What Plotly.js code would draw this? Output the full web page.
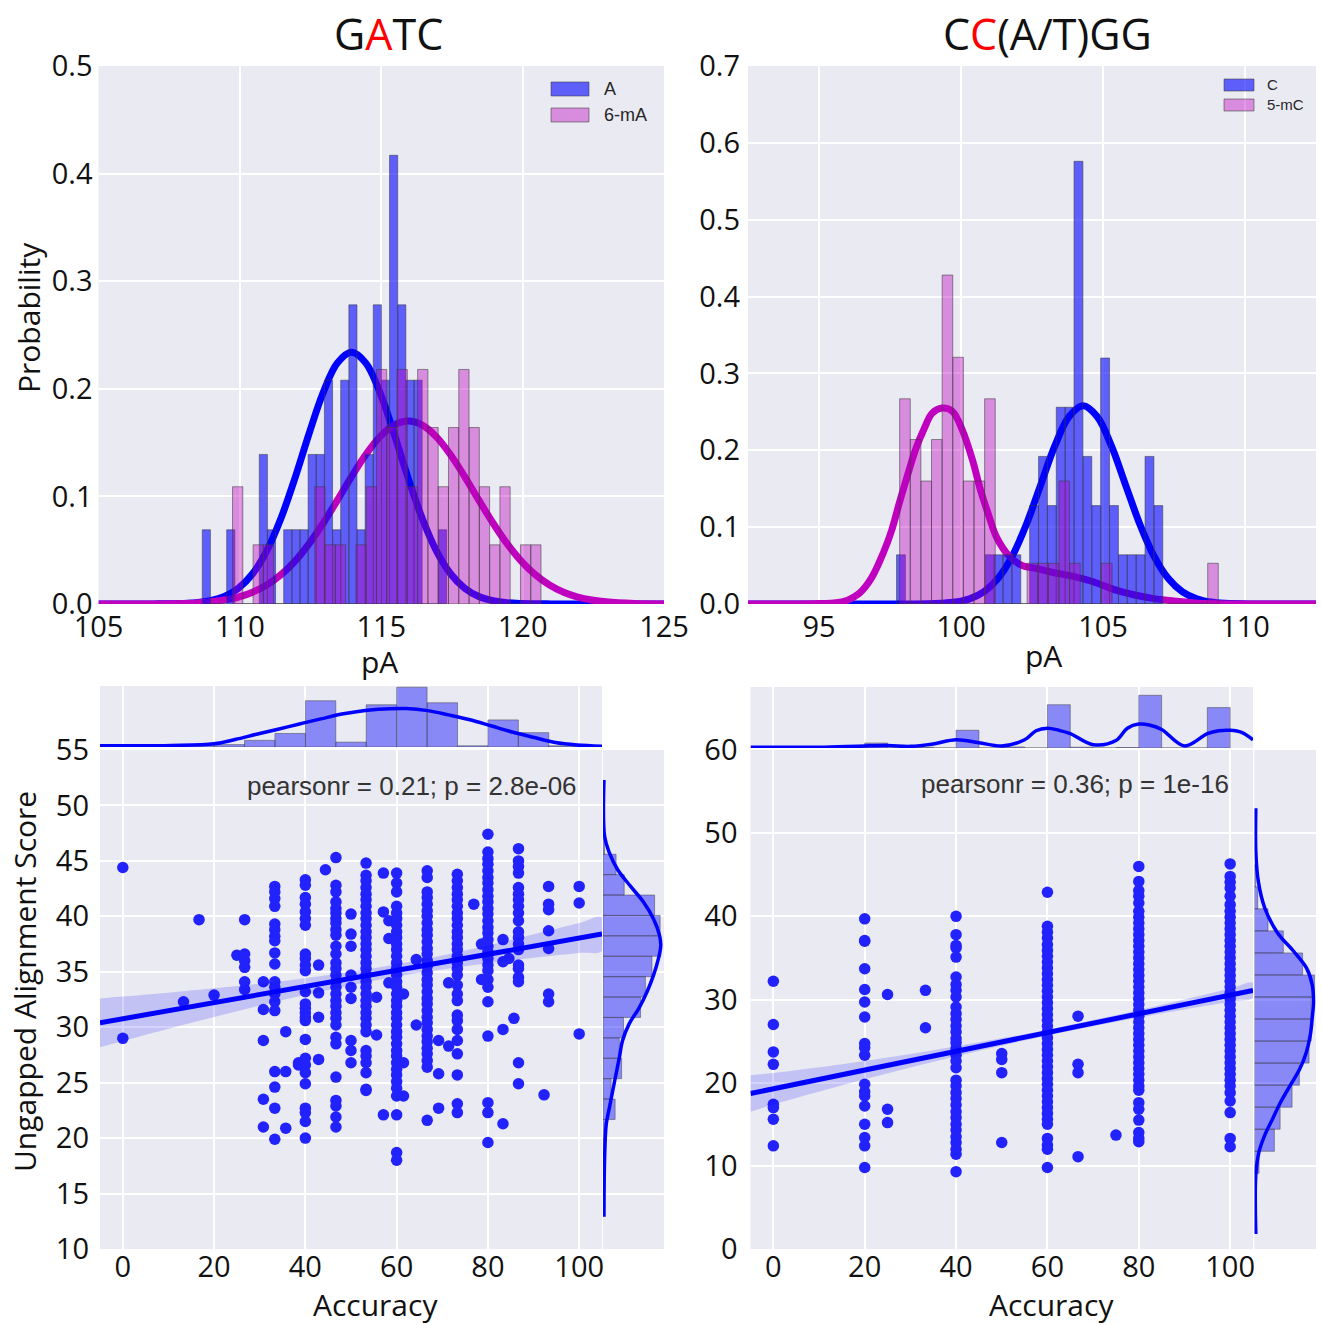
<!DOCTYPE html>
<html><head><meta charset="utf-8">
<script src="https://cdn.plot.ly/plotly-3.0.1.min.js"></script>
<style>html,body{margin:0;padding:0;background:#fff;} #chart{width:1322px;height:1325px;}</style>
</head><body><div id="chart"></div>
<script>
// ---------------- DATA ----------------
// Top-left (GATC): histograms of A and 6-mA (probability density)
const gatcA_binStart = 108.67, gatcA_binWidth = 0.288;
const gatcA_heights = [0.069,0,0,0.069,0,0,0,0.139,0.069,0,0.069,0.069,0.069,0.139,0.139,0.208,0.069,0.208,0.278,0.069,0.139,0.278,0.208,0.417,0.278,0.208,0.208,0,0,0.069];
const gatcM_binStart = 109.74, gatcM_binWidth = 0.3637;
const gatcM_heights = [0.109,0,0.055,0.055,0,0,0,0,0.109,0.055,0.055,0,0.055,0.109,0.218,0.164,0.218,0.109,0.218,0.164,0.109,0.164,0.218,0.164,0.109,0.055,0.109,0,0.055,0.055];
// fitted curves
const gatcA_curveX = [105,106,107,107.95,108.45,108.95,109.45,109.95,110.45,110.95,111.45,111.95,112.45,112.95,113.45,113.95,114.45,114.95,115.45,115.95,116.45,116.95,117.45,117.95,118.45,118.95,119.45,119.95,121,122,123,125];
const gatcA_curveY = [0,0,0.0001,0.0005,0.0012,0.0031,0.0070,0.0147,0.0281,0.0493,0.0794,0.1171,0.1586,0.1968,0.2241,0.234,0.2241,0.1968,0.1586,0.1171,0.0794,0.0493,0.0281,0.0147,0.0070,0.0031,0.0012,0.0005,0.0001,0,0,0];
const gatcM_curveX = [105,106,106.95,107.95,108.45,108.95,109.45,109.95,110.45,110.95,111.45,111.95,112.45,112.95,113.45,113.95,114.45,114.95,115.45,115.95,116.45,116.95,117.45,117.95,118.45,118.95,119.45,119.95,120.45,120.95,121.45,121.95,122.45,122.95,123.95,125];
const gatcM_curveY = [0,0.0001,0.0001,0.0005,0.0010,0.0020,0.0037,0.0065,0.0110,0.0177,0.0272,0.0399,0.0561,0.0753,0.0965,0.1184,0.1387,0.1553,0.1662,0.170,0.1662,0.1553,0.1387,0.1184,0.0965,0.0753,0.0561,0.0399,0.0272,0.0177,0.0110,0.0065,0.0037,0.0020,0.0005,0.0001];

// Top-right (CC(A/T)GG): histograms of C and 5-mC
const ccwC_binStart = 97.73, ccwC_binWidth = 0.3125;
const ccwC_heights = [0.064,0,0,0,0,0,0,0,0,0,0.064,0.064,0.064,0.064,0,0.128,0.192,0.128,0.256,0.256,0.576,0.192,0.128,0.32,0.128,0.064,0.064,0.064,0.192,0.128];
const ccwM_binStart = 97.84, ccwM_binWidth = 0.374;
const ccwM_heights = [0.267,0.214,0.160,0.214,0.428,0.321,0.160,0.160,0.267,0,0,0,0.053,0.053,0.053,0.160,0.053,0,0,0.053,0,0,0,0,0,0,0,0,0,0.053];
const ccwC_curveX = [92.5,95,97.3,98.3,98.8,99.3,99.8,100.3,100.8,101.3,101.8,102.3,102.8,103.3,103.8,104.3,104.8,105.3,105.8,106.3,106.8,107.3,107.8,108.3,108.8,109.3,110.3,112.5];
const ccwC_curveY = [0,0,0,0.0001,0.0003,0.0009,0.0025,0.0067,0.0157,0.0331,0.0620,0.1035,0.1544,0.2053,0.2437,0.258,0.2437,0.2053,0.1544,0.1035,0.0620,0.0331,0.0157,0.0067,0.0025,0.0009,0.0001,0];
const ccwM_curveX = [92.5,94,95,95.85,96.42,96.85,97.27,97.56,97.84,98.13,98.41,98.69,98.98,99.33,99.69,100.04,100.40,100.68,100.97,101.25,101.68,102.1,102.67,103.24,103.95,104.66,105.37,106.08,106.79,107.5,108.35,110,112.5];
const ccwM_curveY = [0,0,0.0005,0.003,0.014,0.034,0.067,0.096,0.133,0.169,0.202,0.227,0.248,0.255,0.251,0.227,0.188,0.149,0.116,0.087,0.063,0.051,0.046,0.041,0.036,0.029,0.019,0.012,0.007,0.004,0.001,0,0];

// Bottom-left (GATC): accuracy vs ungapped alignment score
const gatcAccuracy = [0,13.3,16.7,20,25,26.7,30.8,33.3,35.7,38.5,40,42.9,44.4,46.7,50,53.3,55.6,57.1,58.3,60,61.5,64.3,66.7,69.2,71.4,73.3,76.9,78.6,80,83.3,84.6,85.7,86.7,92.3,93.3,100];
const gatcScores = [
 [44.4,29.0],[32.3],[39.7],[32.9],[36.5],
 [39.7,36.6,36.0,35.4,34.1,33.4],
 [34.1,31.6,28.8,23.5,21.0],
 [42.7,42.2,41.6,40.9,39.3,38.8,38.2,37.8,36.7,35.7,34.1,33.6,33.0,32.3,31.5,26.0,24.6,22.7,19.9],
 [29.6,26.0,20.9],[26.6,26.8],
 [43.3,42.8,41.7,41.1,40.4,39.8,39.2,36.6,36.2,35.6,35.1,33.2,32.1,31.7,31.3,30.9,30.6,28.9,27.2,26.6,25.9,24.9,22.7,22.3,21.5,20.0],
 [35.6,33.1,30.9,27.1],[44.2],
 [45.3,42.8,42.2,41.3,40.7,40.3,39.8,39.4,38.8,38.3,37.3,36.6,35.8,35.3,34.7,34.1,33.6,33.0,32.4,31.9,31.3,30.8,30.2,29.1,28.5,25.5,23.4,22.9,21.9,21.0],
 [40.2,38.4,37.3,34.7,33.6,32.6,28.8,27.9,26.8],
 [44.8,43.7,43.2,42.6,42.0,41.5,40.9,40.3,39.8,39.2,38.6,38.1,37.5,37.0,36.4,35.8,35.3,34.7,34.1,33.6,33.0,32.4,31.9,31.3,30.8,30.2,29.6,27.9,27.4,26.8,25.9,24.4,24.3],
 [32.7,29.3],[43.9,40.4,22.1],[39.6,38.0,34.0],
 [43.9,43.0,42.2,40.9,40.3,39.8,39.2,38.6,38.1,37.5,37.0,36.4,35.8,35.3,34.7,34.1,33.6,33.0,32.4,31.9,31.3,30.8,30.2,29.6,29.1,28.5,27.9,27.4,26.8,26.2,25.7,25.1,24.5,23.8,22.1,18.7,18.0],
 [33.0,26.8,23.8],[36.1,30.2],
 [44.1,43.5,42.2,41.7,41.1,40.5,40.0,39.4,38.8,38.3,37.7,37.1,36.6,36.0,35.5,34.9,34.3,33.8,33.2,32.6,32.1,31.5,30.9,30.4,29.8,29.2,28.7,28.1,27.6,27.0,26.4,21.6],
 [28.8,25.8,22.7],[34.0,28.3],
 [43.8,43.2,42.6,42.0,41.5,40.9,40.3,39.8,39.2,38.6,38.1,37.5,37.0,36.4,35.8,35.3,34.7,33.8,33.0,32.4,31.1,30.6,29.8,28.8,27.6,25.7,23.1,22.3],
 [41.1],[37.5,34.3],
 [47.4,45.8,45.2,44.7,44.1,43.5,43.0,42.4,41.8,41.3,40.7,40.2,39.6,39.0,38.5,37.9,37.3,36.8,36.2,35.6,35.1,34.3,33.6,32.3,29.2,23.2,22.3,19.6],
 [37.9,35.9,29.8,21.3],[36.2],[30.8],
 [46.1,45.0,44.5,43.9,42.6,42.0,41.5,40.9,40.3,39.6,38.6,38.1,37.5,37.0,35.6,35.3,34.5,34.1,26.8,24.9],
 [23.9],[42.7,41.1,40.6,38.7,37.1,33.0,32.3],[42.7,41.2,29.4]
];
const gatcRegX = [-5,105], gatcRegY = [30.4,38.4];
const gatcBandX = [-5,0,20,40,60,80,100,105];
const gatcBandLo = [28.2,28.76,30.92,32.92,34.58,35.78,36.69,36.9];
const gatcBandHi = [32.6,32.76,33.52,34.42,35.68,37.38,39.39,39.9];
const gatcTopBinStart = 0, gatcTopBinWidth = 6.667;
const gatcTopHeights = [0.0006,0,0.0012,0.0012,0.0033,0.0067,0.0229,0.0024,0.0209,0.0296,0.0219,0.0006,0.0134,0.0071,0.0006];
const gatcTopKdeX = [-5,0,10.6,20,24.6,29.3,34,38.7,43.4,48,52.7,57.4,62.1,66.8,71.4,76.1,80.8,85.5,90.2,94.8,99.5,105];
const gatcTopKdeY = [0.0006,0.0006,0.0008,0.0016,0.0037,0.0063,0.0088,0.0114,0.0139,0.0163,0.0180,0.0188,0.0190,0.0180,0.0159,0.0135,0.0104,0.0073,0.0047,0.0022,0.0010,0.0004];
const gatcRightBinStart = 18.0, gatcRightBinWidth = 1.84;
const gatcRightDens = [0.0026,0.0044,0.0162,0.0109,0.0249,0.0219,0.0275,0.0503,0.0568,0.0656,0.0774,0.0765,0.0691,0.0284,0.0175,0.0022];
const gatcRightKdeY = [52.3,47.2,45.7,44.2,42.7,41.25,39.76,38.3,37.4,36.2,34.7,33.2,31.7,30.3,28.75,27.3,25.8,24.3,22.8,21.3,18.3,12.9];
const gatcRightKdeX = [0.0013,0.0022,0.0087,0.0197,0.037,0.0546,0.0677,0.0756,0.0774,0.0743,0.0677,0.059,0.048,0.035,0.026,0.022,0.0175,0.0131,0.0087,0.0044,0.0022,0.0013];

// Bottom-right (CC(A/T)GG)
const ccwAccuracy = [0,20,25,33.3,40,50,60,66.7,75,80,100];
const ccwScores = [
 [32.2,27.0,23.7,22.2,17.4,17.0,15.6,12.4],
 [39.7,37.1,37.0,33.7,31.2,29.7,27.9,24.7,24.2,23.3,19.8,18.9,18.4,17.2,15.0,13.4,12.4,9.8],
 [30.6,16.8,15.2],[31.1,26.6],
 [40.0,37.8,36.5,36.2,35.1,32.7,31.8,31.1,30.3,29.1,28.3,27.6,26.8,26.1,25.3,24.8,24.1,23.3,22.6,21.8,20.3,19.6,18.8,18.1,17.3,16.5,15.8,15.0,14.3,13.5,12.8,12.0,11.4,9.3],
 [23.5,22.8,21.2,12.8],
 [42.9,38.8,38.1,37.4,36.6,35.9,35.2,34.5,33.8,33.1,32.4,31.7,31.0,30.3,29.6,28.9,28.2,27.5,26.8,26.1,25.4,24.7,24.0,23.3,22.6,21.9,21.2,20.5,19.8,19.1,18.4,17.7,17.0,16.3,15.6,15.0,13.3,12.5,12.0,9.8],
 [28.0,22.2,21.2,11.1],[13.7],
 [46.0,44.2,43.1,42.4,41.6,40.6,39.9,39.2,38.5,37.8,37.1,36.4,35.7,35.0,34.3,33.6,32.9,32.2,31.5,30.8,30.1,29.4,28.7,28.0,27.3,26.6,25.9,25.2,24.5,23.8,23.1,22.4,21.7,21.0,20.3,19.6,19.1,17.6,16.8,15.5,14.0,13.3,12.9],
 [46.3,44.8,44.1,43.4,42.4,41.4,40.6,39.9,39.2,38.5,37.8,37.1,36.4,35.7,35.0,34.3,33.6,32.9,32.2,31.5,30.8,30.1,29.4,28.7,28.0,27.3,26.6,25.9,25.2,24.5,23.8,23.1,22.4,21.7,21.0,20.3,19.6,18.8,17.8,16.4,13.3,12.3]
];
const ccwRegX = [-5,105], ccwRegY = [18.7,31.1];
const ccwBandX = [-5,0,20,40,60,80,100,105];
const ccwBandLo = [16.5,17.36,20.4,23.17,25.67,27.83,29.73,30.2];
const ccwBandHi = [20.9,21.16,22.6,24.37,26.37,28.73,31.33,32.0];
const ccwTopBinStart = 0, ccwTopBinWidth = 5;
const ccwTopHeights = [0.0014,0,0,0,0.0057,0,0.0009,0,0.0203,0,0.0012,0,0.0496,0.0009,0,0.0005,0.0604,0,0,0.0463];
const ccwTopKdeX = [-5,0,10,20,25,30,35,40,45,50,55,57.5,60,62.5,65,70,75,77.5,80,82.5,85,90,95,97.5,100,102.5,105];
const ccwTopKdeY = [0.0009,0.0009,0.0009,0.0024,0.0028,0.0019,0.0047,0.0094,0.0061,0.0024,0.0094,0.0198,0.0227,0.0203,0.0165,0.0038,0.0085,0.0227,0.0274,0.0260,0.0212,0.0024,0.0165,0.0198,0.0203,0.0179,0.0094];
const ccwRightBinStart = 9.1, ccwRightBinWidth = 2.65;
const ccwRightDens = [0.0038,0.0166,0.0214,0.0314,0.0375,0.0456,0.0474,0.0474,0.0501,0.0402,0.0241,0.0113,0.0027,0.0011];
const ccwRightKdeY = [53.0,47.8,44.2,41.0,38.0,35.8,33.8,31.8,29.8,27.7,25.7,23.7,21.7,19.7,17.7,15.7,13.7,11.7,8.9,1.8];
const ccwRightKdeX = [0.0011,0.0011,0.0032,0.0086,0.0193,0.0327,0.0434,0.0482,0.0493,0.0482,0.0466,0.0434,0.038,0.030,0.022,0.0153,0.0086,0.0038,0.0011,0.0011];

// ---------------- HELPERS ----------------
const W = 1322, H = 1325;
const px = v => v / W;
const py = v => 1 - v / H;
function flatten(accs, cols) {
  const xs = [], ys = [];
  cols.forEach((c, i) => c.forEach(s => { xs.push(accs[i]); ys.push(s); }));
  return {xs, ys};
}
const BLUE = '#0000ff', MAG = '#bf00bf';
const EDGE = 'rgba(60,60,60,0.55)';
const tickFont = {family: 'Open Sans, sans-serif', size: 29, color: '#111'};
function ax(o) {
  return Object.assign({showgrid: true, gridcolor: '#ffffff', gridwidth: 2, zeroline: false,
    showline: false, ticks: '', tickfont: tickFont, fixedrange: true}, o);
}

const traces = [];
// ---- top-left ----
traces.push({type:'scatter', mode:'lines', x:gatcA_curveX, y:gatcA_curveY, xaxis:'x', yaxis:'y',
  line:{color:BLUE, width:7, shape:'spline'}, hoverinfo:'skip'});
traces.push({type:'scatter', mode:'lines', x:gatcM_curveX, y:gatcM_curveY, xaxis:'x', yaxis:'y',
  line:{color:MAG, width:7, shape:'spline'}, hoverinfo:'skip'});
traces.push({type:'bar', name:'A', x0:gatcA_binStart, dx:gatcA_binWidth, y:gatcA_heights, width:gatcA_binWidth, offset:0,
  xaxis:'x', yaxis:'y2', marker:{color:'rgba(0,0,255,0.6)', line:{color:EDGE, width:1}}});
traces.push({type:'bar', name:'6-mA', x0:gatcM_binStart, dx:gatcM_binWidth, y:gatcM_heights, width:gatcM_binWidth, offset:0,
  xaxis:'x', yaxis:'y2', marker:{color:'rgba(191,0,191,0.4)', line:{color:EDGE, width:1}}});
// ---- top-right ----
traces.push({type:'scatter', mode:'lines', x:ccwC_curveX, y:ccwC_curveY, xaxis:'x2', yaxis:'y3',
  line:{color:BLUE, width:7, shape:'spline'}, hoverinfo:'skip'});
traces.push({type:'scatter', mode:'lines', x:ccwM_curveX, y:ccwM_curveY, xaxis:'x2', yaxis:'y3',
  line:{color:MAG, width:7, shape:'spline'}, hoverinfo:'skip'});
traces.push({type:'bar', name:'C', x0:ccwC_binStart, dx:ccwC_binWidth, y:ccwC_heights, width:ccwC_binWidth, offset:0,
  xaxis:'x2', yaxis:'y4', marker:{color:'rgba(0,0,255,0.6)', line:{color:EDGE, width:1}}});
traces.push({type:'bar', name:'5-mC', x0:ccwM_binStart, dx:ccwM_binWidth, y:ccwM_heights, width:ccwM_binWidth, offset:0,
  xaxis:'x2', yaxis:'y4', marker:{color:'rgba(191,0,191,0.4)', line:{color:EDGE, width:1}}});

function joint(accs, cols, regX, regY, bX, bLo, bHi, topStart, topW, topH, topKX, topKY,
               rStart, rW, rD, rKX, rKY, xa, ya, xt, yt, xr, yr) {
  const f = flatten(accs, cols);
  traces.push({type:'scatter', mode:'markers', x:f.xs, y:f.ys, xaxis:xa, yaxis:ya,
    marker:{color:'#2222fd', size:11.5}, hoverinfo:'skip'});
  traces.push({type:'scatter', mode:'lines', x:bX.concat(bX.slice().reverse()), y:bLo.concat(bHi.slice().reverse()),
    xaxis:xa, yaxis:ya, fill:'toself', fillcolor:'rgba(0,0,255,0.17)', line:{width:0, shape:'spline'}, hoverinfo:'skip'});
  traces.push({type:'scatter', mode:'lines', x:regX, y:regY, xaxis:xa, yaxis:ya,
    line:{color:BLUE, width:5}, hoverinfo:'skip'});
  traces.push({type:'bar', x0:topStart, dx:topW, y:topH, width:topW, offset:0, xaxis:xt, yaxis:yt,
    marker:{color:'rgba(0,0,255,0.42)', line:{color:'rgba(70,70,70,0.5)', width:1}}});
  traces.push({type:'scatter', mode:'lines', x:topKX, y:topKY, xaxis:xt, yaxis:yt,
    line:{color:BLUE, width:3.5, shape:'spline'}, hoverinfo:'skip'});
  traces.push({type:'bar', orientation:'h', y0:rStart, dy:rW, x:rD, width:rW, offset:0, xaxis:xr, yaxis:yr,
    marker:{color:'rgba(0,0,255,0.42)', line:{color:'rgba(70,70,70,0.5)', width:1}}});
  traces.push({type:'scatter', mode:'lines', x:rKX, y:rKY, xaxis:xr, yaxis:yr,
    line:{color:BLUE, width:3.5, shape:'spline'}, hoverinfo:'skip'});
}
joint(gatcAccuracy, gatcScores, gatcRegX, gatcRegY, gatcBandX, gatcBandLo, gatcBandHi,
  gatcTopBinStart, gatcTopBinWidth, gatcTopHeights, gatcTopKdeX, gatcTopKdeY,
  gatcRightBinStart, gatcRightBinWidth, gatcRightDens, gatcRightKdeX, gatcRightKdeY,
  'x3','y5','x4','y6','x5','y7');
joint(ccwAccuracy, ccwScores, ccwRegX, ccwRegY, ccwBandX, ccwBandLo, ccwBandHi,
  ccwTopBinStart, ccwTopBinWidth, ccwTopHeights, ccwTopKdeX, ccwTopKdeY,
  ccwRightBinStart, ccwRightBinWidth, ccwRightDens, ccwRightKdeX, ccwRightKdeY,
  'x6','y8','x7','y9','x8','y10');

const accTicks = [0,20,40,60,80,100];
const hidden = {showticklabels:false};
const layout = {
  width: W, height: H, margin:{l:0, r:0, t:0, b:0}, paper_bgcolor:'#ffffff', plot_bgcolor:'#EAEAF2',
  showlegend:false, barmode:'overlay', bargap:0,
  // top-left
  xaxis: ax({domain:[px(98.5), px(664)], range:[105,125], tickvals:[105,110,115,120,125], anchor:'y', ticklabelstandoff:3}),
  yaxis: ax({domain:[py(604), py(66)], range:[0,0.5], tickvals:[0,0.1,0.2,0.3,0.4,0.5], tickformat:'.1f', anchor:'x', ticklabelstandoff:5}),
  yaxis2: ax({overlaying:'y', range:[0,0.5], anchor:'x', showgrid:false, showticklabels:false}),
  // top-right
  xaxis2: ax({domain:[px(748), px(1316)], range:[92.5,112.5], tickvals:[95,100,105,110], anchor:'y3', ticklabelstandoff:3}),
  yaxis3: ax({domain:[py(604), py(66)], range:[0,0.7], tickvals:[0,0.1,0.2,0.3,0.4,0.5,0.6,0.7], tickformat:'.1f', anchor:'x2', ticklabelstandoff:7}),
  yaxis4: ax({overlaying:'y3', range:[0,0.7], anchor:'x2', showgrid:false, showticklabels:false}),
  // bottom-left
  xaxis3: ax({domain:[px(100), px(602)], range:[-5,105], tickvals:accTicks, anchor:'y5', ticklabelstandoff:-2}),
  yaxis5: ax({domain:[py(1249), py(750)], range:[10,55], tickvals:[10,15,20,25,30,35,40,45,50,55], anchor:'x3', ticklabelstandoff:10}),
  xaxis4: ax(Object.assign({domain:[px(100), px(602)], range:[-5,105], tickvals:accTicks, anchor:'y6'}, hidden)),
  yaxis6: ax(Object.assign({domain:[py(747), py(686)], range:[0,0.0302], showgrid:false, anchor:'x4'}, hidden)),
  xaxis5: ax(Object.assign({domain:[px(603), px(664)], range:[0,0.0817], showgrid:false, anchor:'y7'}, hidden)),
  yaxis7: ax(Object.assign({domain:[py(1249), py(750)], range:[10,55], tickvals:[10,15,20,25,30,35,40,45,50,55], anchor:'x5'}, hidden)),
  // bottom-right
  xaxis6: ax({domain:[px(750.5), px(1253)], range:[-5,105], tickvals:accTicks, anchor:'y8', ticklabelstandoff:-2}),
  yaxis8: ax({domain:[py(1249), py(750)], range:[0,60], tickvals:[0,10,20,30,40,50,60], anchor:'x6', ticklabelstandoff:12}),
  xaxis7: ax(Object.assign({domain:[px(750.5), px(1253)], range:[-5,105], tickvals:accTicks, anchor:'y9'}, hidden)),
  yaxis9: ax(Object.assign({domain:[py(748), py(687)], range:[0,0.0699], showgrid:false, anchor:'x7'}, hidden)),
  xaxis8: ax(Object.assign({domain:[px(1254.5), px(1316)], range:[0,0.0514], showgrid:false, anchor:'y10'}, hidden)),
  yaxis10: ax(Object.assign({domain:[py(1249), py(750)], range:[0,60], tickvals:[0,10,20,30,40,50,60], anchor:'x8'}, hidden)),
  shapes: [
    {type:'rect', xref:'paper', yref:'paper', x0:px(551), x1:px(589), y0:py(96), y1:py(82), fillcolor:'rgba(0,0,255,0.6)', line:{color:EDGE, width:1}},
    {type:'rect', xref:'paper', yref:'paper', x0:px(551), x1:px(589), y0:py(122), y1:py(108), fillcolor:'rgba(191,0,191,0.4)', line:{color:EDGE, width:1}},
    {type:'rect', xref:'paper', yref:'paper', x0:px(1224), x1:px(1254), y0:py(91), y1:py(79), fillcolor:'rgba(0,0,255,0.6)', line:{color:EDGE, width:1}},
    {type:'rect', xref:'paper', yref:'paper', x0:px(1224), x1:px(1254), y0:py(111), y1:py(99), fillcolor:'rgba(191,0,191,0.4)', line:{color:EDGE, width:1}}
  ],
  annotations: []
};
const tf = {family:'Open Sans, sans-serif', color:'#111'};
const A = (text, x, y, size, extra) => layout.annotations.push(Object.assign({text, xref:'paper', yref:'paper',
  x:px(x), y:py(y), xanchor:'center', yanchor:'middle', showarrow:false, font:Object.assign({}, tf, {size})}, extra || {}));
A('G<span style="color:#ff0000">A</span>TC', 388, 33, 43);
A('C<span style="color:#ff0000">C</span>(A/T)GG', 1047, 33, 43);
A('pA', 380, 661, 30);
A('pA', 1043, 655, 30);
A('Probability', 28, 318, 30, {textangle:-90});
A('Ungapped Alignment Score', 24, 982, 30, {textangle:-90});
A('Accuracy', 375, 1304, 30);
A('Accuracy', 1051, 1304, 30);
const lf = {family:'Liberation Sans, Arial, sans-serif', color:'#262626'};
const L = (text, x, y, size) => layout.annotations.push({text, xref:'paper', yref:'paper', x:px(x), y:py(y),
  xanchor:'left', yanchor:'middle', showarrow:false, font:Object.assign({}, lf, {size})});
L('A', 602, 89, 18); L('6-mA', 602, 115, 18);
L('C', 1265, 85, 15); L('5-mC', 1265, 105, 15);
layout.annotations.push({text:'pearsonr = 0.21; p = 2.8e-06', xref:'paper', yref:'paper', x:px(412), y:py(786),
  xanchor:'center', yanchor:'middle', showarrow:false, font:Object.assign({}, lf, {size:26, color:'#333'})});
layout.annotations.push({text:'pearsonr = 0.36; p = 1e-16', xref:'paper', yref:'paper', x:px(1075), y:py(784),
  xanchor:'center', yanchor:'middle', showarrow:false, font:Object.assign({}, lf, {size:26, color:'#333'})});

Plotly.newPlot('chart', traces, layout, {displayModeBar:false, staticPlot:true});
</script></body></html>
